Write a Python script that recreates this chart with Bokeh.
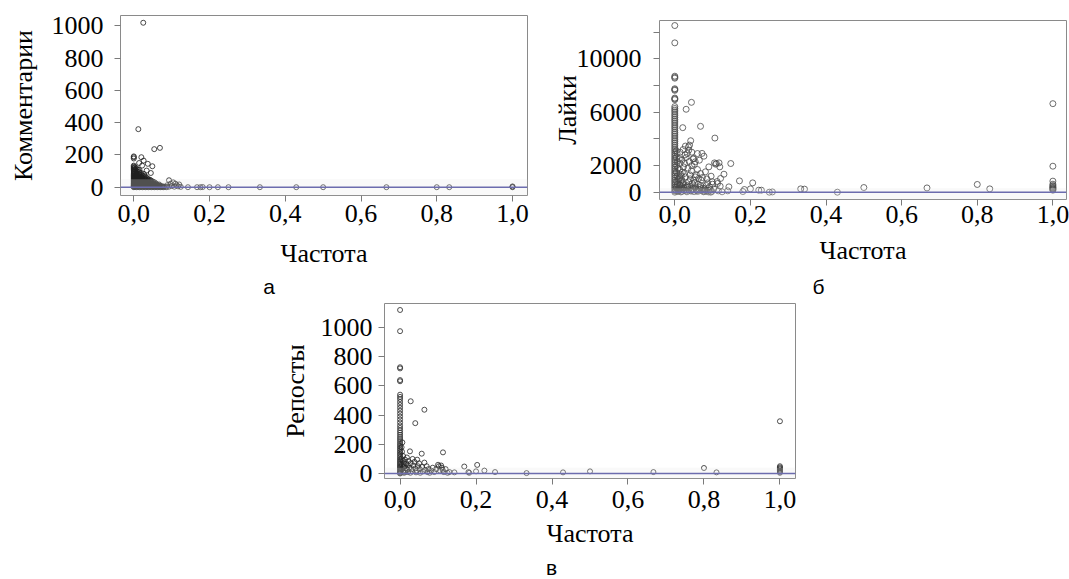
from bokeh.plotting import figure
from bokeh.models import Range1d, FixedTicker, Span, BoxAnnotation, Spacer
from bokeh.core.properties import value
from bokeh.layouts import row, column
from bokeh.embed import file_html
from bokeh.resources import INLINE

# ---------------- data ----------------
x_ticks = [0.0, 0.2, 0.4, 0.6, 0.8, 1.0]
x_tick_labels = ["0,0", "0,2", "0,4", "0,6", "0,8", "1,0"]

comments_ticks = [0, 200, 400, 600, 800, 1000]
comments_tick_labels = ["0", "200", "400", "600", "800", "1000"]
likes_ticks = [0, 2000, 4000, 6000, 8000, 10000, 12000]
likes_tick_labels = ["0", "2000", "", "6000", "", "10000", ""]
reposts_ticks = [0, 200, 400, 600, 800, 1000]
reposts_tick_labels = ["0", "200", "400", "600", "800", "1000"]

x_label = "Частота"
y_labels = ["Комментарии", "Лайки", "Репосты"]
panel_letters = ["а", "б", "в"]

# (frequency, comments)
comments_pts = [
    (0.0, 0), (0.0, 2), (0.0, 5), (0.0, 8), (0.0, 11), (0.0, 14), (0.0, 18), (0.0, 22), (0.0, 26),
    (0.0, 31), (0.0, 36), (0.0, 41), (0.0, 47), (0.0, 53), (0.0, 59), (0.0, 66), (0.0, 73), (0.0, 80),
    (0.0, 87), (0.0, 94), (0.0, 101), (0.0, 108), (0.0, 115), (0.0, 121), (0.0, 128), (0.0, 134),
    (0.0, 178), (0.0, 186), (0.0, 191),
    (0.003, 1), (0.003, 6), (0.003, 11), (0.003, 17), (0.003, 24), (0.003, 31), (0.003, 39), (0.003, 47),
    (0.003, 56), (0.003, 65), (0.003, 75), (0.003, 86), (0.003, 98), (0.003, 111), (0.003, 124),
    (0.007, 0), (0.007, 4), (0.007, 9), (0.007, 15), (0.007, 22), (0.007, 29), (0.007, 37), (0.007, 46),
    (0.007, 55), (0.007, 65), (0.007, 76), (0.007, 88), (0.007, 101), (0.007, 117),
    (0.011, 1), (0.011, 5), (0.011, 10), (0.011, 16), (0.011, 23), (0.011, 31), (0.011, 40), (0.011, 49),
    (0.011, 59), (0.011, 70), (0.011, 82), (0.011, 95), (0.011, 108), (0.012, 360),
    (0.015, 0), (0.015, 4), (0.015, 9), (0.015, 15), (0.015, 22), (0.015, 30), (0.015, 38), (0.015, 47),
    (0.015, 57), (0.015, 68), (0.015, 80), (0.015, 93), (0.015, 106), (0.014, 150),
    (0.019, 1), (0.019, 5), (0.019, 10), (0.019, 17), (0.019, 25), (0.019, 33), (0.019, 42), (0.019, 52),
    (0.019, 63), (0.019, 75), (0.019, 88), (0.020, 186), (0.022, 134),
    (0.023, 0), (0.023, 4), (0.023, 9), (0.023, 15), (0.023, 22), (0.023, 30), (0.023, 39), (0.023, 49),
    (0.023, 60), (0.023, 72), (0.025, 1020), (0.026, 165),
    (0.027, 1), (0.027, 6), (0.027, 12), (0.027, 19), (0.027, 27), (0.027, 36), (0.027, 46), (0.027, 57),
    (0.027, 69), (0.027, 82),
    (0.031, 0), (0.031, 4), (0.031, 9), (0.031, 16), (0.031, 24), (0.031, 33), (0.031, 43), (0.031, 54),
    (0.031, 66), (0.034, 103),
    (0.035, 1), (0.035, 5), (0.035, 11), (0.035, 18), (0.035, 26), (0.035, 35), (0.035, 45), (0.035, 56),
    (0.037, 145),
    (0.039, 0), (0.039, 4), (0.039, 9), (0.039, 15), (0.039, 22), (0.039, 30), (0.039, 39), (0.039, 49),
    (0.045, 88),
    (0.043, 1), (0.043, 6), (0.043, 12), (0.043, 19), (0.043, 27), (0.043, 36), (0.043, 46),
    (0.047, 0), (0.047, 4), (0.047, 9), (0.047, 15), (0.047, 22), (0.047, 30), (0.047, 39), (0.049, 130),
    (0.051, 1), (0.051, 5), (0.051, 11), (0.051, 18), (0.051, 26), (0.051, 34), (0.054, 236),
    (0.055, 0), (0.055, 4), (0.055, 9), (0.055, 15), (0.055, 22), (0.055, 30),
    (0.059, 1), (0.059, 5), (0.059, 10), (0.059, 16), (0.059, 23),
    (0.063, 0), (0.063, 4), (0.063, 9), (0.063, 15), (0.069, 244),
    (0.067, 1), (0.067, 5), (0.067, 10), (0.067, 17),
    (0.071, 0), (0.071, 4), (0.071, 9),
    (0.075, 1), (0.075, 5), (0.079, 0), (0.079, 4), (0.083, 2), (0.087, 0), (0.088, 12),
    (0.093, 43), (0.093, 3), (0.097, 22), (0.100, 8), (0.104, 30), (0.107, 3), (0.110, 22), (0.113, 12),
    (0.117, 5), (0.120, 17), (0.124, 2),
    (0.143, 0), (0.167, 0), (0.176, 0), (0.182, 1), (0.200, 0), (0.222, 0), (0.250, 0), (0.333, 0),
    (0.429, 0), (0.500, 0), (0.667, 0), (0.800, 0), (0.833, 0), (1.0, 0), (1.0, 2), (1.0, 5),
]

# (frequency, likes)
likes_pts = [
    (0.0, 12500), (0.0, 11200), (0.0, 8700), (0.0, 8620), (0.0, 8550), (0.0, 7760), (0.0, 7700),
    (0.0, 7640), (0.0, 7060), (0.0, 7000), (0.0, 6940), (0.0, 6420), (0.0, 6280), (0.0, 6150),
    (0.0, 6020), (0.0, 5870), (0.0, 5740), (0.0, 5600), (0.0, 5460), (0.0, 5330), (0.0, 5190),
    (0.0, 5040), (0.0, 4900), (0.0, 4770), (0.0, 4620), (0.0, 4480), (0.0, 4350), (0.0, 4210),
    (0.0, 4070), (0.0, 3930), (0.0, 3800), (0.0, 3660), (0.0, 3520), (0.0, 3380), (0.0, 3240),
    (0.0, 3110), (0.0, 2970), (0.0, 2830), (0.0, 2690), (0.0, 2550), (0.0, 2420), (0.0, 2280),
    (0.0, 2140), (0.0, 2000), (0.0, 1870), (0.0, 1730), (0.0, 1590), (0.0, 1450), (0.0, 1320),
    (0.0, 1180), (0.0, 1040), (0.0, 900), (0.0, 770), (0.0, 630), (0.0, 500), (0.0, 360),
    (0.0, 230), (0.0, 90), (0.0, 0),
    (0.004, 3100), (0.006, 2900), (0.004, 2600), (0.007, 2300), (0.005, 2000), (0.008, 1800),
    (0.004, 1500), (0.006, 1200), (0.009, 1000), (0.005, 800), (0.007, 600), (0.004, 400),
    (0.008, 200), (0.006, 50), (0.003, 150), (0.005, 350), (0.009, 80),
    (0.012, 2500), (0.014, 2150), (0.013, 1700), (0.015, 1350), (0.012, 1050), (0.016, 800),
    (0.013, 550), (0.015, 300), (0.012, 100), (0.014, 530), (0.014, 3000), (0.011, 260), (0.016, 20),
    (0.019, 2400), (0.019, 900), (0.020, 1500), (0.021, 4840), (0.022, 3200), (0.021, 600),
    (0.020, 250), (0.023, 1900), (0.018, 50), (0.018, 420), (0.017, 1200), (0.022, 700),
    (0.044, 6740), (0.030, 6220), (0.068, 4940), (0.106, 4060), (0.042, 3860), (0.039, 3530),
    (0.028, 3460), (0.037, 3160), (0.072, 2910), (0.077, 2700), (0.050, 2530), (0.054, 2280),
    (0.026, 2160), (0.117, 2200), (0.119, 1900), (0.108, 2100), (0.148, 2150), (0.130, 1350),
    (0.121, 1030), (0.113, 650), (0.099, 780), (0.090, 1900), (0.081, 1530), (0.068, 1400),
    (0.063, 1030), (0.054, 1150), (0.046, 650), (0.037, 780), (0.028, 1150), (0.014, 530),
    (0.025, 300), (0.030, 100), (0.033, 500), (0.035, 1800), (0.040, 1300), (0.045, 2000),
    (0.048, 200), (0.050, 900), (0.052, 2100), (0.055, 400), (0.058, 100), (0.060, 1700),
    (0.062, 600), (0.065, 200), (0.070, 900), (0.075, 300), (0.078, 50), (0.083, 500),
    (0.085, 1000), (0.088, 150), (0.092, 400), (0.095, 0), (0.100, 600), (0.103, 250),
    (0.105, 2200), (0.110, 2150), (0.112, 800), (0.115, 100), (0.120, 450), (0.125, 30),
    (0.030, 2600), (0.033, 2900), (0.036, 3400), (0.045, 3000), (0.048, 2500), (0.060, 2900),
    (0.065, 2400), (0.044, 1600), (0.038, 2300), (0.041, 1000), (0.025, 1400), (0.027, 2800),
    (0.034, 350), (0.043, 80), (0.053, 700), (0.057, 1300), (0.068, 500), (0.073, 1100),
    (0.080, 150), (0.087, 700), (0.096, 1200), (0.024, 150), (0.029, 380), (0.032, 30),
    (0.036, 200), (0.039, 450), (0.042, 120), (0.047, 300), (0.051, 40), (0.056, 220),
    (0.061, 60), (0.066, 350), (0.071, 120), (0.076, 30), (0.079, 250), (0.084, 80),
    (0.089, 20), (0.094, 180), (0.098, 60),
    (0.140, 100), (0.143, 400), (0.171, 850), (0.180, 50), (0.184, 200), (0.200, 250),
    (0.206, 700), (0.222, 150), (0.229, 150), (0.250, 0), (0.258, 20), (0.333, 250),
    (0.343, 230), (0.430, 0), (0.500, 350), (0.667, 320), (0.800, 580), (0.833, 250),
    (1.0, 6640), (1.0, 1950), (1.0, 830), (1.0, 600), (1.0, 500), (1.0, 420), (1.0, 350),
    (1.0, 300), (1.0, 250), (1.0, 200), (1.0, 150),
]

# (frequency, reposts)
reposts_pts = [
    (0.0, 1120), (0.0, 975), (0.0, 728), (0.0, 720), (0.0, 640), (0.0, 632), (0.0, 540), (0.0, 525),
    (0.0, 510), (0.0, 490), (0.0, 470), (0.0, 450), (0.0, 430), (0.0, 410), (0.0, 390), (0.0, 370),
    (0.0, 350), (0.0, 330), (0.0, 312), (0.0, 295), (0.0, 280), (0.0, 265), (0.0, 250), (0.0, 236),
    (0.0, 222), (0.0, 208), (0.0, 195), (0.0, 182), (0.0, 170), (0.0, 158), (0.0, 146), (0.0, 134),
    (0.0, 122), (0.0, 110), (0.0, 99), (0.0, 88), (0.0, 78), (0.0, 68), (0.0, 58), (0.0, 49),
    (0.0, 40), (0.0, 32), (0.0, 24), (0.0, 16), (0.0, 9), (0.0, 3), (0.0, 0),
    (0.004, 180), (0.006, 213), (0.005, 150), (0.008, 120), (0.004, 100), (0.007, 85), (0.010, 70),
    (0.005, 60), (0.009, 45), (0.006, 30), (0.008, 15), (0.010, 5),
    (0.013, 95), (0.015, 70), (0.012, 50), (0.016, 35), (0.014, 20), (0.013, 8), (0.018, 110),
    (0.020, 60), (0.019, 25), (0.022, 85), (0.024, 40), (0.021, 10), (0.026, 152), (0.028, 495),
    (0.028, 70), (0.030, 30), (0.027, 5), (0.033, 100), (0.035, 55), (0.032, 15), (0.038, 80),
    (0.040, 345), (0.040, 35), (0.042, 8), (0.045, 95), (0.047, 50), (0.044, 20), (0.050, 70),
    (0.052, 30), (0.053, 5), (0.057, 136), (0.058, 45), (0.060, 15), (0.064, 437), (0.064, 75),
    (0.066, 25), (0.070, 50), (0.072, 10), (0.075, 30), (0.078, 5), (0.082, 20), (0.086, 40),
    (0.090, 10), (0.095, 30), (0.100, 60), (0.102, 50), (0.105, 20), (0.108, 55), (0.110, 40),
    (0.113, 145), (0.112, 25), (0.115, 10), (0.120, 30), (0.125, 5), (0.130, 10),
    (0.143, 8), (0.169, 48), (0.180, 10), (0.182, 5), (0.203, 59), (0.200, 15), (0.222, 20),
    (0.250, 10), (0.333, 3), (0.429, 8), (0.500, 15), (0.667, 10), (0.800, 38), (0.833, 8),
    (1.0, 358), (1.0, 50), (1.0, 42), (1.0, 35), (1.0, 28), (1.0, 20), (1.0, 12), (1.0, 5),
]

SERIF = "Liberation Serif"
SANS = "Liberation Sans"


def make_panel(pts, yticks, ylabels, ylab, width, height, borders, xr, yr,
               ytick_standoff, ylab_standoff, xtick_standoff, xlab_standoff,
               band_top, pt_color, pt_size):
    bl, br, bt, bb = borders
    p = figure(width=width, height=height, output_backend="svg", toolbar_location=None,
               x_range=Range1d(*xr), y_range=Range1d(*yr),
               min_border_left=bl, min_border_right=br, min_border_top=bt, min_border_bottom=bb)
    p.grid.visible = False
    p.outline_line_color = "#8a8a8a"
    p.outline_line_width = 1
    p.background_fill_color = "white"
    p.border_fill_color = "white"

    p.add_layout(BoxAnnotation(bottom=yr[0], top=band_top, fill_color="#e6e6e6", fill_alpha=0.25,
                               line_alpha=0))

    xs = [a for a, b in pts]
    ys = [b for a, b in pts]
    p.scatter(xs, ys, marker="circle", size=pt_size, fill_color=None, line_color=pt_color,
              line_alpha=0.8, line_width=1)
    p.add_layout(Span(location=0, dimension="width", line_color="#6c6cae", line_width=1.5))

    for ax in (p.xaxis[0], p.yaxis[0]):
        ax.axis_line_color = None
        ax.major_tick_line_color = "#7a7a7a"
        ax.major_tick_in = 0
        ax.major_tick_out = 6
        ax.minor_tick_line_color = None
        ax.major_label_text_font = SERIF
        ax.major_label_text_font_size = "26px"
        ax.major_label_text_color = "black"
        ax.axis_label_text_font = SERIF
        ax.axis_label_text_font_size = "26px"
        ax.axis_label_text_font_style = "normal"
        ax.axis_label_text_color = "black"

    xa = p.xaxis[0]
    xa.ticker = FixedTicker(ticks=x_ticks, minor_ticks=[])
    xa.major_label_overrides = dict(zip(x_ticks, x_tick_labels))
    xa.axis_label = x_label
    xa.major_label_standoff = xtick_standoff
    xa.axis_label_standoff = xlab_standoff

    ya = p.yaxis[0]
    ya.ticker = FixedTicker(ticks=yticks, minor_ticks=[])
    ya.major_label_overrides = dict(zip(yticks, ylabels))
    ya.axis_label = ylab
    ya.major_label_standoff = ytick_standoff
    ya.axis_label_standoff = ylab_standoff
    return p


def make_letter(letter, width, height, frame_span, cx, cy):
    # a thin strip under a panel that only carries the panel letter;
    # its frame is aligned with the panel frame above, so x is in page pixels
    p = figure(width=width, height=height, output_backend="svg", toolbar_location=None,
               x_range=Range1d(*frame_span), y_range=Range1d(0, height),
               x_axis_type=None, y_axis_type=None, min_border=0)
    p.grid.visible = False
    p.outline_line_color = None
    p.background_fill_color = "white"
    p.border_fill_color = "white"
    p.text(x=[cx], y=[cy], text=[letter], text_font=value(SANS), text_font_size="21px",
           text_align="center", text_baseline="middle", text_color="black")
    return p


pa = make_panel(comments_pts, comments_ticks, comments_tick_labels, y_labels[0],
                540, 275, (120, 13, 15, 80), (-0.0351, 1.0396), (-51.5, 1065),
                11, 11, 3, 14, 50, "#1e1e1e", 5)
pb = make_panel(likes_pts, likes_ticks, likes_tick_labels, y_labels[1],
                529, 275, (119, 3, 20, 76), (-0.0405, 1.036), (-548, 12878),
                12, -8, 0, 10, 300, "#4a4a4a", 6)
pc = make_panel(reposts_pts, reposts_ticks, reposts_tick_labels, y_labels[2],
                541, 250, (110, 20, 3, 70), (-0.041, 1.041), (-34, 1164.5),
                6, 8, 6, 8, 40, "#262626", 5)

la = make_letter(panel_letters[0], 540, 25, (120, 527), 268.6, 14.5)
lb = make_letter(panel_letters[1], 529, 25, (659, 1066), 818, 14.5)
lc = make_letter(panel_letters[2], 541, 29, (384, 795), 551, 12.5)

layout = column(
    row(column(pa, la), column(pb, lb)),
    row(Spacer(width=274, height=279), column(pc, lc)),
)

open("out.html", "w").write(file_html(layout, INLINE))
